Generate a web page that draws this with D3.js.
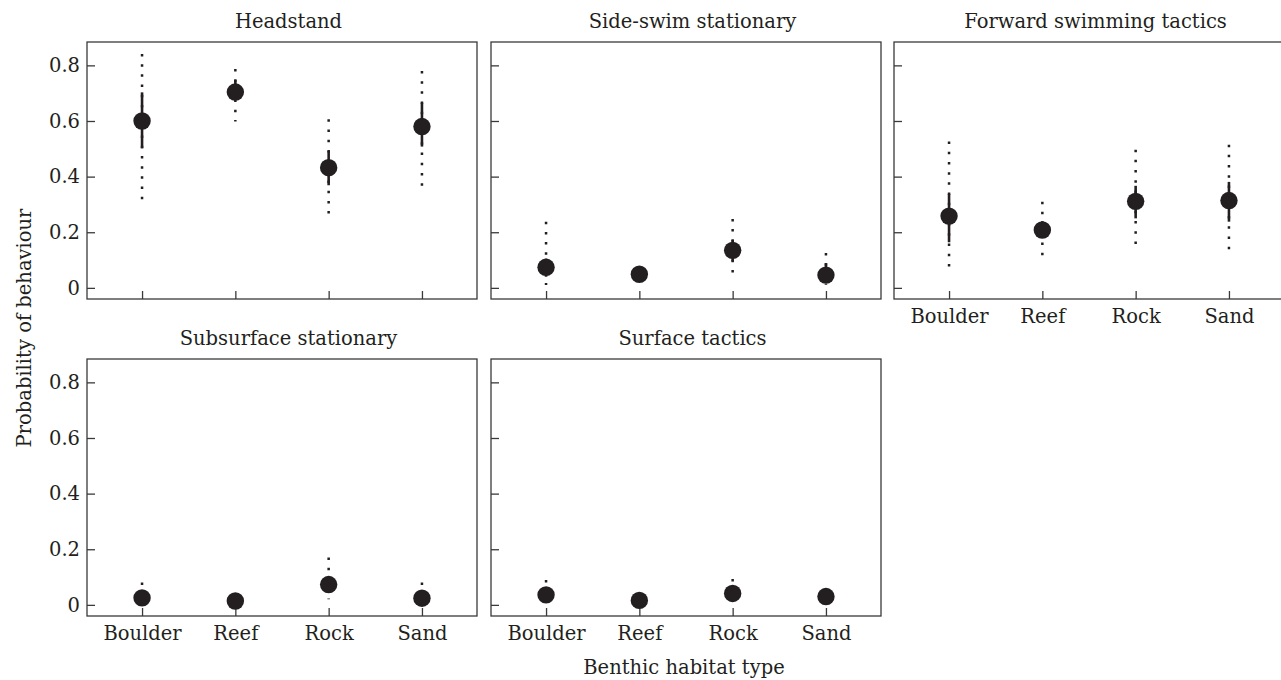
<!DOCTYPE html>
<html>
<head>
<meta charset="utf-8">
<script src="https://cdn.jsdelivr.net/npm/d3@7"></script>
<style>
	body { margin: 0; background: #fff; }
	svg text { font-family: "DejaVu Serif", serif; fill: #231f20; }
	.axis line { stroke: #3a3a3a; stroke-width: 1.3; }
	.axis text { font-size: 19.5px; }
	.panelTitle, .axisTitle { font-size: 19.5px; }
</style>
</head>
<body>
<svg class="mainSvg" width="1281" height="680"></svg>
<script>
// categories on the x axis, panel titles
const habitats = ["Boulder", "Reef", "Rock", "Sand"];
const behaviours = ["Headstand", "Side-swim stationary", "Forward swimming tactics", "Subsurface stationary", "Surface tactics"];
const yTicks = [0, 0.2, 0.4, 0.6, 0.8];

// estimated probability per behaviour (rows) and habitat (columns)
const means = [
	[0.60, 0.704, 0.432, 0.58],
	[0.074, 0.049, 0.135, 0.046],
	[0.258, 0.208, 0.311, 0.314],
	[0.025, 0.014, 0.073, 0.024],
	[0.036, 0.016, 0.041, 0.030]
];
// inner (solid) interval
const innerLo = [
	[0.502, 0.676, 0.369, 0.508],
	[0.040, 0.035, 0.095, 0.022],
	[0.164, 0.180, 0.250, 0.238],
	[0.012, 0.006, 0.055, 0.012],
	[0.022, 0.008, 0.028, 0.018]
];
const innerHi = [
	[0.703, 0.747, 0.492, 0.666],
	[0.105, 0.062, 0.172, 0.089],
	[0.338, 0.240, 0.367, 0.381],
	[0.045, 0.025, 0.100, 0.045],
	[0.060, 0.030, 0.065, 0.050]
];
// outer (dotted) interval
const outerLo = [
	[0.319, 0.598, 0.262, 0.362],
	[0.010, 0.025, 0.055, 0.011],
	[0.071, 0.116, 0.157, 0.135],
	[0.004, 0.002, 0.020, 0.004],
	[0.010, 0.004, 0.012, 0.008]
];
const outerHi = [
	[0.841, 0.787, 0.606, 0.780],
	[0.238, 0.075, 0.248, 0.125],
	[0.526, 0.310, 0.497, 0.515],
	[0.080, 0.040, 0.170, 0.080],
	[0.089, 0.045, 0.093, 0.060]
];

const svg = d3.select('.mainSvg');
const panelW = 390, panelH = 257;
const panelPos = [[87, 42], [491, 42], [894, 42], [87, 359], [491, 359]];
const showYLabels = [true, false, false, true, false];
const showXLabels = [false, false, true, true, true];
const ink = '#231f20';

const xScale = d3.scalePoint().domain(habitats).range([0, panelW]).padding(0.59);
const yScale = d3.scaleLinear().domain([-0.04, 0.884]).range([panelH, 0]);
const fmt = function(d){ return d === 0 ? '0' : d.toFixed(1); };

behaviours.forEach(function(title, p){
	const g = svg.append('g').attr('transform', 'translate(' + panelPos[p][0] + ',' + panelPos[p][1] + ')');

	g.append('text').classed('panelTitle', true)
		.attr('x', panelW / 2 + 6.5)
		.attr('y', -14.5)
		.attr('text-anchor', 'middle')
		.text(title);

	//Axes, ticks pointing inward
	g.append('g').classed('axis', true)
		.call(d3.axisLeft(yScale).tickValues(yTicks).tickSizeInner(-8).tickSizeOuter(0).tickPadding(7)
			.tickFormat(showYLabels[p] ? fmt : ''));
	g.append('g').classed('axis', true)
		.attr('transform', 'translate(0,' + panelH + ')')
		.call(d3.axisBottom(xScale).tickSizeInner(-8).tickSizeOuter(0).tickPadding(10)
			.tickFormat(showXLabels[p] ? null : ''));
	g.selectAll('.axis').attr('font-family', null).attr('font-size', null);
	g.selectAll('.axis .domain').remove();
	g.selectAll('.axis text').attr('fill', ink);

	g.append('rect')
		.attr('width', panelW).attr('height', panelH)
		.attr('fill', 'none').attr('stroke', '#3a3a3a').attr('stroke-width', 1.3);

	const rows = habitats.map(function(h, i){
		return { h: h, m: means[p][i], il: innerLo[p][i], ih: innerHi[p][i], ol: outerLo[p][i], oh: outerHi[p][i] };
	});

	g.selectAll('.outer').data(rows).enter().append('line').classed('outer', true)
		.attr('x1', function(d){ return xScale(d.h); })
		.attr('x2', function(d){ return xScale(d.h); })
		.attr('y1', function(d){ return yScale(d.oh); })
		.attr('y2', function(d){ return yScale(d.ol); })
		.attr('stroke', ink).attr('stroke-width', 2.5)
		.attr('stroke-dasharray', '2.5,7.7');

	g.selectAll('.inner').data(rows).enter().append('line').classed('inner', true)
		.attr('x1', function(d){ return xScale(d.h); })
		.attr('x2', function(d){ return xScale(d.h); })
		.attr('y1', function(d){ return yScale(d.ih); })
		.attr('y2', function(d){ return yScale(d.il); })
		.attr('stroke', ink).attr('stroke-width', 2.6);

	g.selectAll('.point').data(rows).enter().append('circle').classed('point', true)
		.attr('cx', function(d){ return xScale(d.h); })
		.attr('cy', function(d){ return yScale(d.m); })
		.attr('r', 8.7)
		.attr('fill', ink);
});

svg.append('text').classed('axisTitle', true)
	.attr('transform', 'translate(31,328) rotate(-90)')
	.attr('text-anchor', 'middle')
	.text('Probability of behaviour');

svg.append('text').classed('axisTitle', true)
	.attr('x', 684).attr('y', 674)
	.attr('text-anchor', 'middle')
	.text('Benthic habitat type');
</script>
</body>
</html>
